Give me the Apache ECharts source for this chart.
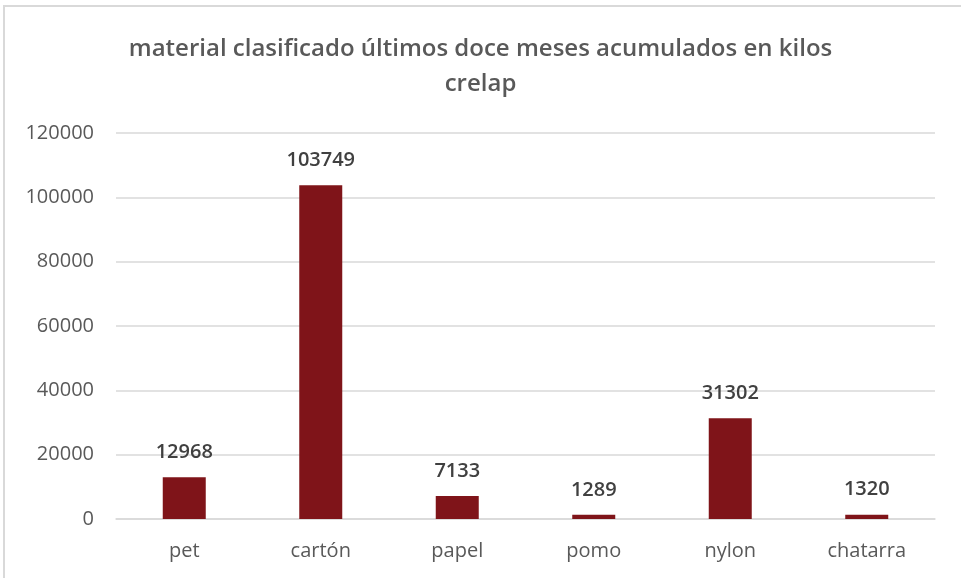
<!DOCTYPE html>
<html lang="es">
<head>
<meta charset="UTF-8">
<title>material clasificado</title>
<script src="https://cdn.jsdelivr.net/npm/echarts@6/dist/echarts.min.js"></script>
<style>
  * { margin: 0; padding: 0; }
  body { background: #fff; }
  #frame {
    position: absolute; left: 3px; top: 5px; width: 958px; height: 573px;
    border-left: 2px solid #d9d9d9; border-top: 2px solid #d9d9d9;
  }
  #chart { position: absolute; left: 0; top: 0; width: 961px; height: 578px; }
</style>
</head>
<body>
<div id="frame"></div>
<div id="chart"></div>
<script>
  // datos
  var categorias = ['pet', 'cartón', 'papel', 'pomo', 'nylon', 'chatarra'];
  var kilos = [12968, 103749, 7133, 1289, 31302, 1320];

  var chart = echarts.init(document.getElementById('chart'));
  var fuente = '"Open Sans", "Noto Sans", sans-serif';

  chart.setOption({
    animation: false,
    title: {
      text: 'material clasificado últimos doce meses acumulados en kilos\ncrelap',
      left: 'center',
      top: 27,
      textStyle: {
        fontFamily: fuente,
        fontSize: 24,
        fontWeight: 600,
        color: '#595959',
        lineHeight: 35
      }
    },
    grid: { left: 116, right: 26, top: 133, bottom: 59 },
    xAxis: {
      type: 'category',
      data: categorias,
      axisLine: { lineStyle: { color: '#d9d9d9', width: 1.5 } },
      axisTick: { show: false },
      axisLabel: {
        fontFamily: fuente, fontSize: 20, color: '#595959', margin: 22
      }
    },
    yAxis: {
      type: 'value',
      min: 0,
      max: 120000,
      interval: 20000,
      axisLine: { show: false },
      axisTick: { show: false },
      splitLine: { lineStyle: { color: '#d9d9d9', width: 1.5 } },
      axisLabel: {
        fontFamily: fuente, fontSize: 20, color: '#595959', margin: 22,
        formatter: function (v) { return String(v); }
      }
    },
    series: [{
      type: 'bar',
      data: kilos,
      barWidth: 43,
      itemStyle: { color: '#7f1419' },
      label: {
        show: true,
        position: 'top',
        distance: 15,
        fontFamily: fuente,
        fontSize: 20,
        fontWeight: 600,
        color: '#404040'
      }
    }]
  });
</script>
</body>
</html>
